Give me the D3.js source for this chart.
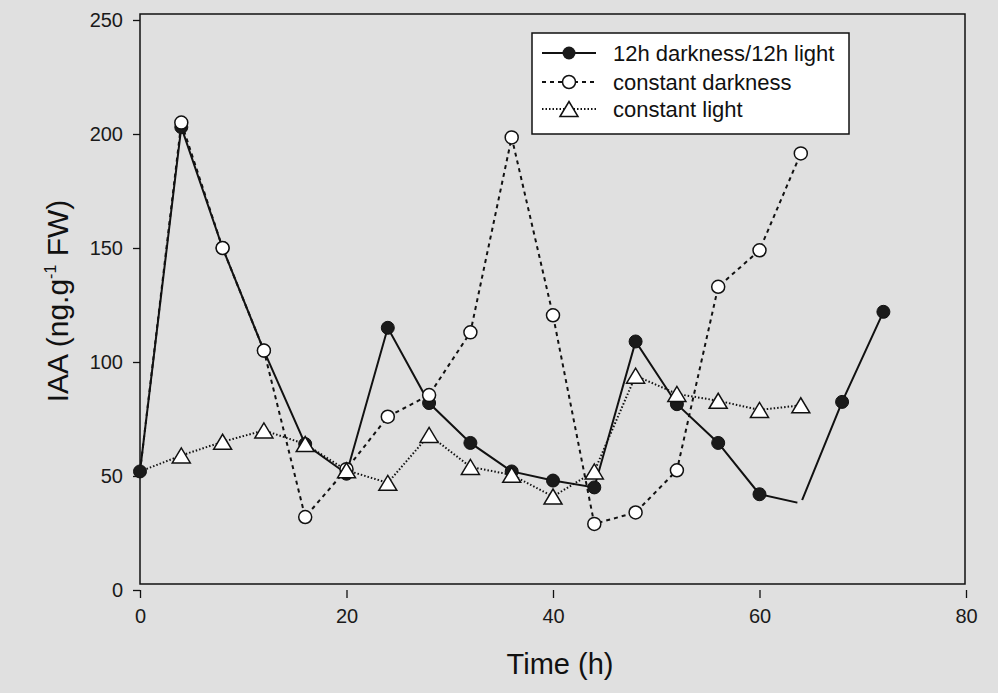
<!DOCTYPE html>
<html>
<head>
<meta charset="utf-8">
<script src="https://cdn.jsdelivr.net/npm/d3@7"></script>
<style>
  html, body { margin: 0; padding: 0; background: #e0e0e0; }
  svg { display: block; font-family: "Liberation Sans", Arial, sans-serif; }
</style>
</head>
<body>
<svg id="chart" width="998" height="693"></svg>
<script>
// ---- data ----
const timeDL = [0, 4, 8, 12, 16, 20, 24, 28, 32, 36, 40, 44, 48, 52, 56, 60, 64, 68, 72];
const iaaDL  = [52, 203, 150, 105, 64, 51, 115, 82, 64.5, 52, 48, 45, 109, 81.5, 64.5, 42, 38, 82.5, 122];
const hiddenMarkerTimesDL = [64];

const timeCD = [0, 4, 8, 12, 16, 20, 24, 28, 32, 36, 40, 44, 48, 52, 56, 60, 64];
const iaaCD  = [52, 205, 150, 105, 32, 53, 76, 85.5, 113, 198.5, 120.5, 29, 34, 52.5, 133, 149, 191.5];
const hiddenMarkerTimesCD = [0];

const timeCL = [0, 4, 8, 12, 16, 20, 24, 28, 32, 36, 40, 44, 48, 52, 56, 60, 64];
const iaaCL  = [52, 59, 65, 70, 64, 52.5, 47, 68, 54, 50.5, 41, 52, 94, 86, 83, 79, 81];
const hiddenMarkerTimesCL = [0];

const xTicks = [0, 20, 40, 60, 80];
const yTicks = [0, 50, 100, 150, 200, 250];
const seriesNames = ["12h darkness/12h light", "constant darkness", "constant light"];
const xTitle = "Time (h)";

// ---- layout ----
const svg = d3.select("#chart");
const bg = "#e0e0e0";
svg.append("rect").attr("width", 998).attr("height", 693).attr("fill", bg);

const x = d3.scaleLinear().domain([0, 80]).range([140, 966]);
const y = d3.scaleLinear().domain([0, 250]).range([590, 20]);

// frame
const frame = {x0: 140, y0: 14, x1: 965, y1: 584};
svg.append("rect")
  .attr("x", frame.x0).attr("y", frame.y0)
  .attr("width", frame.x1 - frame.x0).attr("height", frame.y1 - frame.y0)
  .attr("fill", "none").attr("stroke", "#111").attr("stroke-width", 1.5);

// y axis (ticks + labels)
const yAxis = svg.append("g").attr("transform", "translate(140,0)")
  .call(d3.axisLeft(y).tickValues(yTicks).tickSize(7).tickPadding(10).tickFormat(d3.format("d")));
yAxis.select(".domain").remove();
yAxis.selectAll(".tick line").attr("stroke", "#111").attr("stroke-width", 1.3);
yAxis.selectAll(".tick text").attr("font-size", 20).attr("fill", "#1a1a1a").attr("font-family", "Liberation Sans, Arial, sans-serif");

// x axis (ticks + labels), offset below the frame
const xAxis = svg.append("g").attr("transform", "translate(0,590)")
  .call(d3.axisBottom(x).tickValues(xTicks).tickSize(8).tickPadding(11).tickFormat(d3.format("d")));
xAxis.select(".domain").remove();
xAxis.selectAll(".tick line").attr("stroke", "#111").attr("stroke-width", 1.3);
xAxis.selectAll(".tick text").attr("font-size", 20).attr("fill", "#1a1a1a").attr("font-family", "Liberation Sans, Arial, sans-serif");

// axis titles
svg.append("text").attr("x", 560).attr("y", 674).attr("text-anchor", "middle")
  .attr("font-size", 29).attr("fill", "#111").text(xTitle);

const yt = svg.append("text").attr("transform", "translate(68,301) rotate(-90)")
  .attr("text-anchor", "middle").attr("font-size", 30).attr("fill", "#111");
yt.append("tspan").text("IAA (ng.g");
yt.append("tspan").attr("font-size", 16).attr("dy", -12).text("-1");
yt.append("tspan").attr("dy", 12).text(" FW)");

// ---- series ----
const line = d3.line().x(d => x(d[0])).y(d => y(d[1]));
const zip = (a, b) => a.map((t, i) => [t, b[i]]);
const dataDL = zip(timeDL, iaaDL);
const dataCD = zip(timeCD, iaaCD);
const dataCL = zip(timeCL, iaaCL);

const triPath = (cx, cy, w, h) => `M${cx - w/2},${cy + h/2}L${cx},${cy - h/2}L${cx + w/2},${cy + h/2}Z`;

// constant light (drawn first so that the filled marker at t=0 sits on top)
svg.append("path").datum(dataCL).attr("d", line)
  .attr("fill", "none").attr("stroke", "#111").attr("stroke-width", 2).attr("stroke-dasharray", "1.5,2");

// constant darkness line
svg.append("path").datum(dataCD).attr("d", line)
  .attr("fill", "none").attr("stroke", "#111").attr("stroke-width", 2).attr("stroke-dasharray", "4,4");

// 12h dark/light
svg.append("path").datum(dataDL).attr("d", line)
  .attr("fill", "none").attr("stroke", "#111").attr("stroke-width", 2);
svg.selectAll(".gapDL").data(dataDL.filter(d => hiddenMarkerTimesDL.includes(d[0]))).enter()
  .append("circle").attr("cx", d => x(d[0])).attr("cy", d => y(d[1])).attr("r", 3.5).attr("fill", bg);
svg.selectAll(".mDL").data(dataDL.filter(d => !hiddenMarkerTimesDL.includes(d[0]))).enter()
  .append("circle").attr("cx", d => x(d[0])).attr("cy", d => y(d[1])).attr("r", 6.5)
  .attr("fill", "#1a1a1a").attr("stroke", "#111").attr("stroke-width", 1);

// constant darkness markers
svg.selectAll(".mCD").data(dataCD.filter(d => !hiddenMarkerTimesCD.includes(d[0]))).enter()
  .append("circle").attr("cx", d => x(d[0])).attr("cy", d => y(d[1])).attr("r", 6.5)
  .attr("fill", "#fff").attr("stroke", "#111").attr("stroke-width", 1.5);

// constant light markers
svg.selectAll(".mCL").data(dataCL.filter(d => !hiddenMarkerTimesCL.includes(d[0]))).enter()
  .append("path").attr("d", d => triPath(x(d[0]), y(d[1]), 18, 15))
  .attr("fill", "#fff").attr("stroke", "#111").attr("stroke-width", 1.5);

// ---- legend ----
const lg = svg.append("g");
lg.append("rect").attr("x", 532).attr("y", 33).attr("width", 317).attr("height", 101)
  .attr("fill", "#fff").attr("stroke", "#111").attr("stroke-width", 1.5);
const rowsY = [53, 82, 109];
const dashes = [null, "4,4", "1.5,2"];
rowsY.forEach((ry, i) => {
  lg.append("line").attr("x1", 542).attr("x2", 596).attr("y1", ry).attr("y2", ry)
    .attr("stroke", "#111").attr("stroke-width", 2).attr("stroke-dasharray", dashes[i]);
  if (i === 0) {
    lg.append("circle").attr("cx", 569).attr("cy", ry).attr("r", 6.5).attr("fill", "#1a1a1a");
  } else if (i === 1) {
    lg.append("circle").attr("cx", 569).attr("cy", ry).attr("r", 6.5)
      .attr("fill", "#fff").attr("stroke", "#111").attr("stroke-width", 1.5);
  } else {
    lg.append("path").attr("d", triPath(569, ry, 18, 15))
      .attr("fill", "#fff").attr("stroke", "#111").attr("stroke-width", 1.5);
  }
  lg.append("text").attr("x", 613).attr("y", ry + 8).attr("font-size", 22).attr("fill", "#111")
    .text(seriesNames[i]);
});
</script>
</body>
</html>
